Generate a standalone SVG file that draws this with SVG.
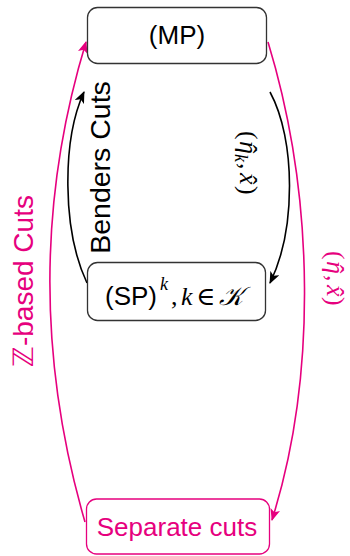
<svg xmlns="http://www.w3.org/2000/svg" width="350" height="556" viewBox="0 0 350 556">
  <style>
    .box { fill: #fff; stroke: #333; stroke-width: 1.3; }
    .pbox { fill: #fff; stroke: #e6007e; stroke-width: 1.3; }
    .sans { font-family: "Liberation Sans", Arial, sans-serif; }
    .serif { font-family: "Liberation Serif", "DejaVu Serif", serif; }
    .it { font-style: italic; }
    .blk { fill: none; stroke: #000; stroke-width: 1.6; }
    .pnk { fill: none; stroke: #e6007e; stroke-width: 1.6; }
  </style>
  <defs>
    <marker id="ah-black" viewBox="0 0 12 10" refX="11" refY="5" markerWidth="12" markerHeight="10" markerUnits="userSpaceOnUse" orient="auto">
      <path d="M0,0 L12,5 L0,10 L3,5 z" fill="#000"/>
    </marker>
    <marker id="ah-pink" viewBox="0 0 12 10" refX="11" refY="5" markerWidth="12" markerHeight="10" markerUnits="userSpaceOnUse" orient="auto">
      <path d="M0,0 L12,5 L0,10 L3,5 z" fill="#e6007e"/>
    </marker>
  </defs>

  <!-- connectors -->
  <g id="connectors">
    <path class="blk" d="M87,283 C62,230 62,140 84,92" marker-end="url(#ah-black)"/>
    <path class="blk" d="M270,92 C296,140 296,230 270,283" marker-end="url(#ah-black)"/>
    <path class="pnk" d="M85,522 C38,360 38,200 86,42" marker-end="url(#ah-pink)"/>
    <path class="pnk" d="M268,42 C316,200 316,380 272,520" marker-end="url(#ah-pink)"/>
  </g>

  <!-- edge labels -->
  <g id="labels">
    <text class="sans" font-size="28.5" fill="#000" text-anchor="middle" transform="translate(110,167.5) rotate(-90)">Benders Cuts</text>
    <text class="sans" font-size="28" fill="#e6007e" text-anchor="middle" transform="translate(33,281) rotate(-90)"><tspan font-family="DejaVu Sans, sans-serif">ℤ</tspan>-based Cuts</text>

    <!-- (η̂_k, x̂), read top to bottom -->
    <g class="serif" font-size="26" fill="#000" transform="translate(240,164) rotate(90)">
      <text x="-33" y="0">(</text>
      <text class="it" x="-23" y="0">η</text>
      <text x="-15" y="1" text-anchor="middle">ˆ</text>
      <text class="it" x="-10" y="5" font-size="18">k</text>
      <text x="-1" y="0">,</text>
      <text class="it" x="9" y="0">x</text>
      <text x="16" y="1" text-anchor="middle">ˆ</text>
      <text x="22" y="0">)</text>
    </g>

    <!-- (η̂, x̂), read top to bottom -->
    <g class="serif" font-size="26" fill="#e6007e" transform="translate(327,278) rotate(90)">
      <text x="-27" y="0">(</text>
      <text class="it" x="-17" y="0">η</text>
      <text x="-9" y="1" text-anchor="middle">ˆ</text>
      <text x="-3" y="0">,</text>
      <text class="it" x="7" y="0">x</text>
      <text x="14" y="1" text-anchor="middle">ˆ</text>
      <text x="19" y="0">)</text>
    </g>
  </g>

  <!-- nodes -->
  <g id="MP">
    <rect class="box" x="87.5" y="7.5" width="179" height="56" rx="10"/>
    <text class="sans" font-size="26" x="177" y="44" text-anchor="middle" fill="#000">(MP)</text>
  </g>
  <g id="SP">
    <rect class="box" x="87.5" y="262.5" width="178" height="58" rx="10"/>
    <text font-size="26" y="305" fill="#000"><tspan class="sans" x="105">(SP)</tspan><tspan class="serif it" x="160" y="290" font-size="18">k</tspan><tspan class="serif" x="171" y="305">,</tspan><tspan class="serif it" x="181">k</tspan><tspan class="serif" x="196">∈</tspan><tspan class="serif it" x="219">𝒦</tspan></text>
  </g>
  <g id="Separate">
    <rect class="pbox" x="86.5" y="499" width="183" height="55" rx="10"/>
    <text class="sans" font-size="26" x="177" y="536" text-anchor="middle" fill="#e6007e">Separate cuts</text>
  </g>
</svg>
